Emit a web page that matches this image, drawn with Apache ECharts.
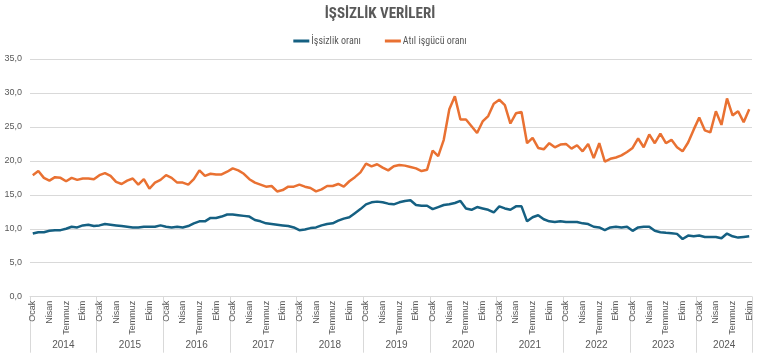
<!DOCTYPE html>
<html>
<head>
<meta charset="utf-8">
<script src="https://cdn.jsdelivr.net/npm/echarts@6/dist/echarts.min.js"></script>
<style>
html,body{margin:0;padding:0;background:#fff;}
#chart{width:760px;height:356px;}
</style>
</head>
<body>
<div id="chart"></div>
<script>
var monthNames = ['Ocak','Şubat','Mart','Nisan','Mayıs','Haziran','Temmuz','Ağustos','Eylül','Ekim','Kasım','Aralık'];
var years = ['2014','2015','2016','2017','2018','2019','2020','2021','2022','2023','2024'];
var monthsPerYear = [12,12,12,12,12,12,12,12,12,12,10];

var issizlik = [
  9.3, 9.5, 9.5, 9.7, 9.8, 9.8, 10.0, 10.3, 10.2, 10.5, 10.6, 10.4,
  10.5, 10.7, 10.6, 10.5, 10.4, 10.3, 10.2, 10.2, 10.3, 10.3, 10.3, 10.5,
  10.3, 10.2, 10.3, 10.2, 10.4, 10.8, 11.1, 11.1, 11.6, 11.6, 11.8, 12.1,
  12.1, 12.0, 11.9, 11.8, 11.3, 11.1, 10.8, 10.7, 10.6, 10.5, 10.4, 10.2,
  9.8, 9.9, 10.1, 10.2, 10.5, 10.7, 10.8, 11.2, 11.5, 11.7, 12.3, 12.9,
  13.6, 13.9, 14.0, 13.9, 13.7, 13.6, 13.9, 14.1, 14.2, 13.5, 13.4, 13.4,
  12.9, 13.2, 13.5, 13.6, 13.8, 14.1, 13.0, 12.8, 13.2, 13.0, 12.8, 12.4,
  13.3, 13.0, 12.8, 13.3, 13.3, 11.1, 11.7, 12.0, 11.4, 11.1, 11.0, 11.1,
  11.0, 11.0, 11.0, 10.8, 10.7, 10.3, 10.2, 9.8, 10.2, 10.3, 10.2, 10.3,
  9.7, 10.2, 10.3, 10.3, 9.7, 9.5, 9.4, 9.35, 9.25, 8.5, 9.0, 8.9,
  9.0, 8.8, 8.8, 8.8, 8.6, 9.3, 8.9, 8.7, 8.8, 8.9
];
var atilIsgucu = [
  17.9, 18.5, 17.5, 17.1, 17.6, 17.5, 17.0, 17.5, 17.2, 17.4, 17.4, 17.3,
  17.9, 18.2, 17.8, 16.9, 16.6, 17.1, 17.4, 16.5, 17.3, 15.9, 16.8, 17.2,
  17.9, 17.5, 16.8, 16.8, 16.5, 17.3, 18.6, 17.8, 18.1, 18.0, 18.0, 18.4,
  18.9, 18.6, 18.1, 17.3, 16.8, 16.5, 16.2, 16.3, 15.5, 15.7, 16.2, 16.2,
  16.5, 16.2, 16.0, 15.5, 15.8, 16.3, 16.3, 16.6, 16.2, 17.0, 17.6, 18.3,
  19.6, 19.2, 19.5, 19.0, 18.6, 19.2, 19.4, 19.3, 19.1, 18.9, 18.5, 18.7,
  21.5, 20.7, 23.1, 27.6, 29.5, 26.1, 26.1, 25.1, 24.1, 25.8, 26.6, 28.4,
  29.0, 28.2, 25.5, 27.0, 27.2, 22.6, 23.4, 21.9, 21.7, 22.6, 22.0, 22.4,
  22.5, 21.8, 22.3, 21.4, 22.5, 20.4, 22.6, 19.9, 20.3, 20.5, 20.8, 21.3,
  21.9, 23.3, 22.0, 23.9, 22.6, 24.0, 22.6, 23.1, 22.0, 21.4, 22.7, 24.6,
  26.4, 24.5, 24.2, 27.3, 25.3, 29.2, 26.7, 27.3, 25.7, 27.6
];
var yTicks = [0, 5, 10, 15, 20, 25, 30, 35];

// build category list (month labels) and year label positions
var categories = [];
var yearCenters = [];
var start = 0;
for (var y = 0; y < years.length; y++) {
  for (var m = 0; m < monthsPerYear[y]; m++) categories.push(monthNames[m]);
  yearCenters.push(start + monthsPerYear[y] / 2);
  start += monthsPerYear[y];
}
var total = categories.length;

var NARROW = "'Liberation Sans Narrow','Roboto Condensed','Liberation Sans',sans-serif";
var FONT = "'Liberation Sans',Arial,sans-serif";
var GRAY = '#595959';

var chart = echarts.init(document.getElementById('chart'), null, {renderer: 'canvas'});
chart.setOption({
  animation: false,
  textStyle: {fontFamily: FONT},
  title: {
    text: 'İŞSİZLİK VERİLERİ',
    left: 'center',
    top: 2,
    textStyle: {fontSize: 15, fontWeight: 'bold', color: GRAY, fontFamily: NARROW}
  },
  legend: {
    top: 31,
    left: 'center',
    itemWidth: 16,
    itemHeight: 3,
    itemGap: 24,
    icon: 'rect',
    textStyle: {fontSize: 10, color: GRAY, fontFamily: NARROW, padding: [0, 0, 0, -3]},
    data: ['İşsizlik oranı', 'Atıl işgücü oranı']
  },
  grid: {left: 30, right: 8, top: 59, bottom: 59.3, containLabel: false},
  xAxis: [
    {
      type: 'category',
      data: categories,
      boundaryGap: true,
      position: 'bottom',
      axisLine: {show: true, lineStyle: {color: '#d9d9d9', width: 1}},
      axisTick: {
        show: true,
        length: 56,
        interval: function (i) { return i % 12 === 0; },
        lineStyle: {color: '#d9d9d9', width: 1}
      },
      axisLabel: {
        interval: 2,
        rotate: 90,
        fontSize: 9,
        color: GRAY,
        fontFamily: FONT,
        margin: 4
      },
      splitLine: {show: false}
    },
    {
      type: 'value',
      min: 0,
      max: total,
      position: 'bottom',
      axisLine: {show: false},
      axisTick: {show: false},
      splitLine: {show: false},
      axisLabel: {
        customValues: yearCenters,
        margin: 44,
        fontSize: 10,
        color: GRAY,
        fontFamily: FONT,
        showMinLabel: true,
        showMaxLabel: true,
        formatter: function (v) {
          for (var k = 0; k < yearCenters.length; k++) {
            if (Math.abs(yearCenters[k] - v) < 0.01) return years[k];
          }
          return '';
        }
      }
    }
  ],
  yAxis: {
    type: 'value',
    min: yTicks[0],
    max: yTicks[yTicks.length - 1],
    interval: 5,
    axisLine: {show: false},
    axisTick: {show: false},
    axisLabel: {
      fontSize: 9,
      color: GRAY,
      fontFamily: FONT,
      margin: 8,
      formatter: function (v) { return v.toFixed(1).replace('.', ','); }
    },
    splitLine: {lineStyle: {color: '#d9d9d9', width: 1}}
  },
  series: [
    {
      name: 'İşsizlik oranı',
      type: 'line',
      xAxisIndex: 0,
      data: issizlik,
      showSymbol: false,
      symbol: 'none',
      lineStyle: {color: '#156082', width: 2.5},
      itemStyle: {color: '#156082'}
    },
    {
      name: 'Atıl işgücü oranı',
      type: 'line',
      xAxisIndex: 0,
      data: atilIsgucu,
      showSymbol: false,
      symbol: 'none',
      lineStyle: {color: '#E97132', width: 2.5},
      itemStyle: {color: '#E97132'}
    }
  ]
});
</script>
</body>
</html>
